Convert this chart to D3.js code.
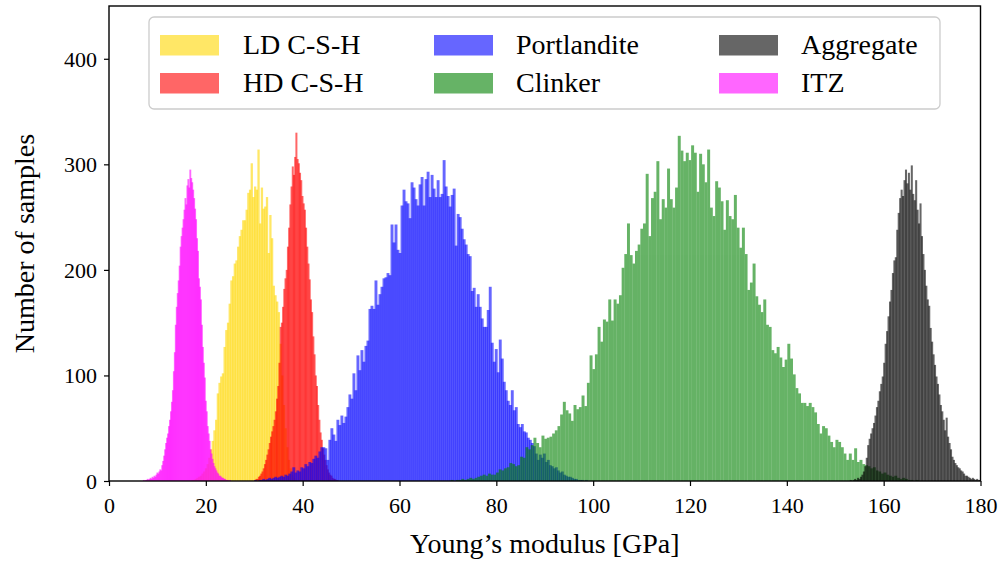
<!DOCTYPE html>
<html>
<head>
<meta charset="utf-8">
<script src="https://cdn.jsdelivr.net/npm/d3@7"></script>
<style>
  html, body { margin: 0; padding: 0; background: #fff; }
  svg { display: block; font-family: 'Liberation Serif', 'Times New Roman', serif; }
</style>
</head>
<body>
<div id="chart"></div>
<script>
// Histograms of Young's modulus per phase.
// Each phase: first bin edge [GPa], bin width [GPa], counts per bin.

const xTicks = [0, 20, 40, 60, 80, 100, 120, 140, 160, 180];
const yTicks = [0, 100, 200, 300, 400];

const ldStart = 17.0;
const ldBin = 0.35;
const ldCounts = [1, 1, 2, 3, 4, 5, 7, 9, 12, 16, 22, 30, 38, 48, 58, 83, 93, 99, 102, 127,
  143, 150, 168, 190, 194, 206, 209, 222, 232, 238, 247, 247, 257, 273, 276, 301, 269, 279, 276, 314,
  244, 278, 258, 260, 269, 216, 252, 230, 185, 176, 170, 160, 130, 100, 72, 50, 32, 20, 12, 6, 3, 1];

const hdStart = 30.0;
const hdBin = 0.25;
const hdCounts = [1, 2, 2, 4, 5, 7, 9, 12, 16, 20, 25, 30, 36, 42, 47, 52, 58, 66, 78, 90,
  112, 146, 150, 165, 182, 192, 200, 222, 240, 262, 279, 298, 290, 307, 330, 305, 301, 292, 285, 270,
  263, 257, 240, 222, 206, 191, 172, 160, 137, 120, 100, 90, 72, 58, 46, 39, 31, 25, 20, 15,
  11, 8, 6, 5, 3, 2, 2, 1, 1, 0];

const portStart = 30.0;
const portBin = 0.414;
const portCounts = [1, 0, 1, 1, 2, 1, 2, 3, 2, 3, 4, 3, 4, 5, 4, 6, 5, 7, 9, 13, 8, 10, 9, 13, 12, 16, 14, 18, 17, 21, 24, 22, 28,
  32, 32, 31, 20, 39, 50, 44, 38, 58, 53, 62, 55, 61, 70, 82, 78, 102, 86, 119, 105, 124, 113, 128, 133, 163, 166, 163, 190,
  167, 177, 184, 192, 193, 197, 195, 243, 226, 243, 219, 216, 261, 276, 265, 263, 249, 283, 278, 267, 261, 281, 288, 261,
  286, 293, 269, 290, 277, 269, 285, 269, 272, 304,
  279, 270, 260, 271, 277, 223, 253, 250, 239, 229, 224, 215, 213, 180, 183, 165, 177, 165, 154, 146, 146, 162, 184, 131,
  113, 125, 103, 134, 116, 94, 86, 76, 72, 86, 67, 70, 54, 51, 54, 47, 46, 41, 39, 36, 33, 26, 20,
  25, 22, 26, 18, 20, 15, 14, 12, 13, 10, 8, 9, 6, 5, 4, 4, 3, 2, 2, 1, 1, 1, 0, 1];

const clinkerStart = 70.0;
const clinkerBin = 0.552;
const clinkerCounts = [0, 1, 0, 1, 1, 2, 1, 2, 3, 2, 3, 4,
  5, 6, 5, 7, 6, 6, 8, 11, 10, 12, 13, 17, 16, 14, 15, 23, 22, 32, 30, 34, 41, 36, 32, 43, 40, 41, 42, 45,
  48, 52, 63, 75, 67, 64, 57, 72, 68, 70,
  81, 71, 93, 119, 106, 120, 146, 132, 153, 151, 172, 152, 172, 168, 176, 202, 215, 244, 214, 206,
  218, 224, 239, 244, 291, 232, 268, 274, 303, 248, 267, 259, 296, 267, 259, 278, 327, 313, 303, 311,
  304, 318, 311, 274, 310, 300, 283, 314, 259, 251, 284, 278, 265, 238, 266, 251, 248, 271, 240, 221,
  240, 215, 181, 188, 206, 175, 167, 160, 172, 148, 146, 124, 121, 127, 117, 108, 115, 130, 116, 101,
  88, 83, 74, 74, 71, 74, 70, 65, 54, 45, 52, 50, 43, 37, 32, 39, 37, 32, 26, 20, 26, 20, 31, 18, 20, 16,
  15, 14, 12, 13, 10, 9, 7, 8, 6, 5, 4, 5, 3, 2, 3, 2, 1, 1, 0, 1];

const aggStart = 153.0;
const aggBin = 0.3;
const aggCounts = [1, 0, 1, 2, 1, 3, 2, 4, 6, 9, 14, 22, 34, 40, 45, 50, 55, 62, 70, 76,
  85, 92, 99, 112, 130, 142, 156, 170, 181, 197, 209, 212, 238, 254, 268, 276, 270, 285, 295, 282,
  292, 276, 299, 272, 266, 285, 257, 244, 263, 232, 215, 200, 185, 172, 166, 145, 132, 120, 110, 99,
  92, 82, 72, 66, 58, 48, 60, 42, 36, 30, 23, 20, 17, 15, 13, 12, 10, 9, 7, 5, 5, 4, 3, 2, 3, 2, 1, 2, 1, 1];

const itzStart = 7.0;
const itzBin = 0.2;
const itzCounts = [1, 0, 1, 1, 2, 1, 2, 3, 2, 4, 3, 5, 4, 6, 8, 7, 9, 11, 10, 15,
  19, 24, 30, 36, 41, 45, 52, 58, 66, 75, 86, 104, 122, 148, 165, 178, 190, 204, 222, 232,
  240, 248, 257, 268, 262, 280, 286, 278, 295, 287, 283, 276, 268, 258, 248, 230, 218, 192, 184, 172,
  148, 127, 112, 98, 76, 66, 52, 45, 38, 30, 26, 21, 17, 14, 12, 10, 8, 7, 5, 5, 4, 3, 3, 2, 2, 1, 1, 1, 0, 1];

// plotting order = legend order (matplotlib fills legend columns first)
const phaseNames = ['LD C-S-H', 'HD C-S-H', 'Portlandite', 'Clinker', 'Aggregate', 'ITZ'];
const phaseStarts = [ldStart, hdStart, portStart, clinkerStart, aggStart, itzStart];
const phaseBins = [ldBin, hdBin, portBin, clinkerBin, aggBin, itzBin];
const phaseCounts = [ldCounts, hdCounts, portCounts, clinkerCounts, aggCounts, itzCounts];

const chartConfig = {
  width: 1001,
  height: 562,
  margin: { top: 6, right: 20.5, bottom: 81, left: 109 },
  colours: ['#ffd700', '#ff0000', '#0000ff', '#008000', '#000000', '#ff00ff'],
  alpha: 0.6,
  // extra px each bar is widened by, so neighbours overlap like the Agg-rendered seams;
  // 0 = no seams at all (whole series composited at once)
  seam: [0.6, 0.8, 0.9, 0, 0.6, 0.9],
  xDomain: [0, 180],
  yDomain: [0, 450],
  legend: { x: 149, y: 17, width: 791, height: 92, colX: [160, 434, 719], textX: [243, 516, 801], rowY: [45, 83] }
};

function drawHistogram() {
  const cfg = chartConfig;
  const chartWidth = cfg.width - cfg.margin.left - cfg.margin.right;
  const chartHeight = cfg.height - cfg.margin.top - cfg.margin.bottom;

  const x = d3.scaleLinear().domain(cfg.xDomain).range([0, chartWidth]);
  const y = d3.scaleLinear().domain(cfg.yDomain).range([chartHeight, 0]);

  const svg = d3
    .select('#chart')
    .append('svg')
    .attr('width', cfg.width)
    .attr('height', cfg.height);

  svg.append('defs')
    .append('clipPath')
    .attr('id', 'plot-clip')
    .append('rect')
    .attr('width', chartWidth)
    .attr('height', chartHeight);

  const g = svg.append('g').attr('transform', `translate(${cfg.margin.left},${cfg.margin.top})`);

  const bars = g.append('g').attr('clip-path', 'url(#plot-clip)');

  phaseNames.forEach((name, i) => {
    const bins = phaseCounts[i].map((c, k) => ({
      x0: phaseStarts[i] + k * phaseBins[i],
      x1: phaseStarts[i] + (k + 1) * phaseBins[i],
      count: c
    }));
    const smooth = cfg.seam[i] === 0;
    bars
      .append('g')
      .attr('fill', cfg.colours[i])
      .attr('fill-opacity', smooth ? 1 : cfg.alpha)
      .attr('opacity', smooth ? cfg.alpha : 1)
      .selectAll('rect')
      .data(bins.filter((d) => d.count > 0))
      .join('rect')
      .attr('x', (d) => x(d.x0))
      .attr('y', (d) => y(d.count))
      .attr('width', (d) => x(d.x1) - x(d.x0) + (smooth ? 0.3 : cfg.seam[i]))
      .attr('height', (d) => y(0) - y(d.count));
  });

  // axes
  const xAxis = g
    .append('g')
    .attr('transform', `translate(0,${chartHeight})`)
    .call(d3.axisBottom(x).tickValues(xTicks).tickSize(5).tickPadding(10).tickFormat(d3.format('d')));
  const yAxis = g
    .append('g')
    .call(d3.axisLeft(y).tickValues(yTicks).tickSize(5).tickPadding(7).tickFormat(d3.format('d')));

  [xAxis, yAxis].forEach((ax) => {
    ax.select('.domain').remove();
    ax.selectAll('line').attr('stroke', '#000').attr('stroke-width', 1.2);
    ax.selectAll('text').attr('fill', '#000').attr('font-size', 22).attr('font-family', 'Liberation Serif');
  });
  xAxis.selectAll('text').attr('dy', '0.75em');
  yAxis.selectAll('text').attr('dy', '0.34em');

  g.append('rect')
    .attr('width', chartWidth)
    .attr('height', chartHeight)
    .attr('fill', 'none')
    .attr('stroke', '#000')
    .attr('stroke-width', 1.4);

  svg
    .append('text')
    .attr('x', cfg.margin.left + chartWidth / 2)
    .attr('y', 553)
    .attr('text-anchor', 'middle')
    .attr('font-size', 28)
    .text('Young\u2019s modulus [GPa]');

  svg
    .append('text')
    .attr('transform', `translate(34,${cfg.margin.top + chartHeight / 2}) rotate(-90)`)
    .attr('text-anchor', 'middle')
    .attr('font-size', 28)
    .text('Number of samples');

  // legend, three columns filled top to bottom
  const lg = cfg.legend;
  const legend = svg.append('g');
  legend
    .append('rect')
    .attr('x', lg.x)
    .attr('y', lg.y)
    .attr('width', lg.width)
    .attr('height', lg.height)
    .attr('rx', 5)
    .attr('fill', '#fff')
    .attr('fill-opacity', 0.8)
    .attr('stroke', '#cccccc')
    .attr('stroke-width', 1.3);

  phaseNames.forEach((name, i) => {
    const col = Math.floor(i / 2);
    const row = i % 2;
    legend
      .append('rect')
      .attr('x', lg.colX[col])
      .attr('y', lg.rowY[row] - 10)
      .attr('width', 59)
      .attr('height', 20.5)
      .attr('fill', cfg.colours[i])
      .attr('fill-opacity', cfg.alpha);
    legend
      .append('text')
      .attr('x', lg.textX[col])
      .attr('y', lg.rowY[row] + 9)
      .attr('font-size', 28)
      .text(name);
  });
}

drawHistogram();
</script>
</body>
</html>
